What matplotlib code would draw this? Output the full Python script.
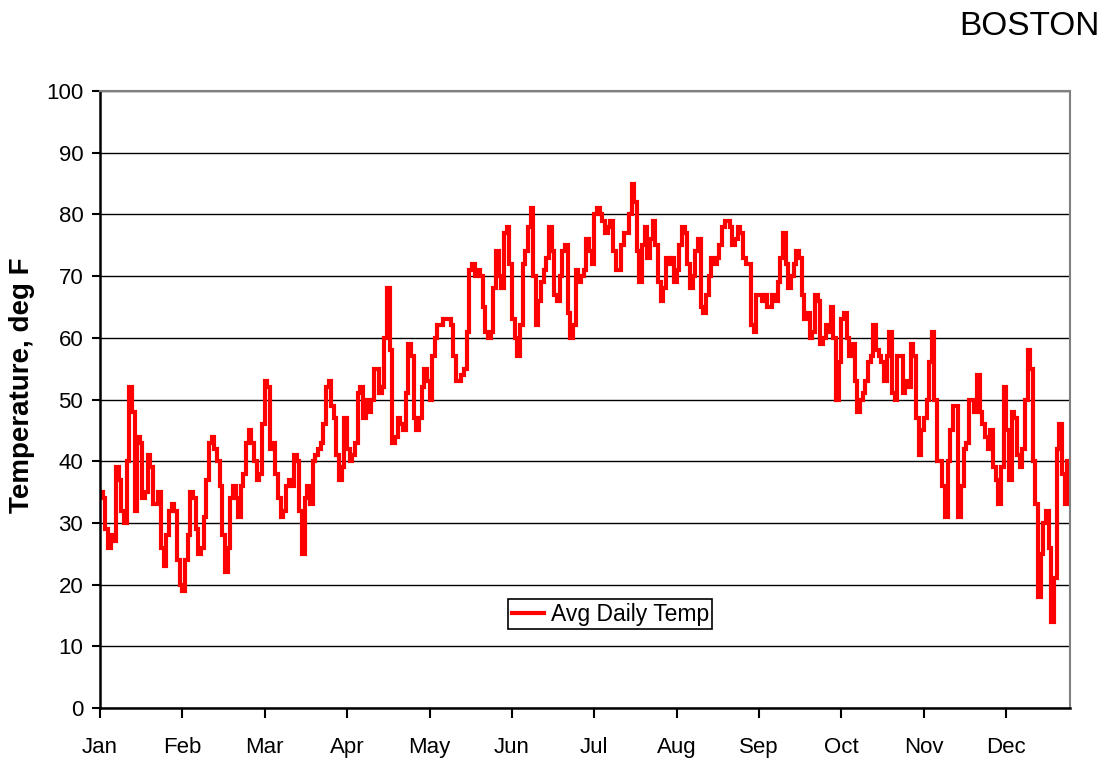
import numpy as np
import matplotlib
matplotlib.use('Agg')
import matplotlib.pyplot as plt

plt.rcParams['font.family'] = ['Liberation Sans', 'DejaVu Sans']

# daily average temperatures (deg F), Jan 1 .. Dec 31
temps = [
    35, 34, 29, 26, 28, 27, 39, 37, 32, 30,
    40, 52, 48, 32, 44, 43, 34, 35, 41, 39,
    33, 33, 35, 26, 23, 28, 32, 33, 32, 24,
    20, 19, 24, 28, 35, 34, 29, 25, 26, 31,
    37, 43, 44, 42, 40, 36, 28, 22, 26, 34,
    36, 34, 31, 36, 38, 43, 45, 43, 40, 37,
    38, 46, 53, 52, 42, 43, 38, 34, 31, 32,
    36, 37, 36, 41, 40, 32, 25, 34, 36, 33,
    40, 41, 42, 43, 46, 52, 53, 49, 47, 41,
    37, 39, 47, 42, 40, 41, 43, 51, 52, 47,
    50, 48, 50, 55, 55, 51, 52, 60, 68, 58,
    43, 44, 47, 46, 45, 51, 59, 57, 47, 45,
    47, 52, 55, 53, 50, 57, 60, 62, 62, 63,
    63, 63, 62, 57, 53, 53, 54, 55, 61, 71,
    72, 70, 71, 70, 65, 61, 60, 61, 68, 74,
    70, 68, 77, 78, 72, 63, 60, 57, 62, 72,
    74, 78, 81, 70, 62, 66, 69, 71, 73, 78,
    74, 67, 66, 70, 74, 75, 64, 60, 62, 71,
    69, 70, 71, 76, 74, 72, 80, 81, 80, 79,
    77, 78, 79, 74, 71, 71, 75, 77, 77, 80,
    85, 82, 74, 69, 75, 78, 73, 76, 79, 75,
    69, 66, 68, 73, 72, 73, 69, 71, 75, 78,
    77, 72, 68, 70, 74, 76, 65, 64, 67, 70,
    73, 72, 73, 75, 78, 79, 79, 78, 75, 76,
    78, 77, 73, 72, 72, 62, 61, 67, 67, 66,
    67, 65, 65, 67, 66, 69, 73, 77, 72, 68,
    70, 72, 74, 73, 67, 63, 64, 60, 61, 67,
    66, 59, 60, 62, 61, 65, 60, 50, 56, 63,
    64, 60, 57, 59, 53, 48, 50, 51, 53, 56,
    57, 62, 58, 57, 56, 53, 57, 61, 51, 50,
    57, 57, 51, 53, 52, 59, 57, 47, 41, 45,
    47, 50, 56, 61, 50, 40, 40, 36, 31, 40,
    45, 49, 49, 31, 36, 42, 43, 50, 50, 48,
    54, 48, 46, 44, 42, 45, 39, 37, 33, 39,
    52, 45, 37, 48, 47, 41, 39, 42, 50, 58,
    55, 40, 33, 18, 25, 30, 32, 26, 14, 21,
    42, 46, 38, 33, 40,
]
month_labels = ['Jan', 'Feb', 'Mar', 'Apr', 'May', 'Jun',
                'Jul', 'Aug', 'Sep', 'Oct', 'Nov', 'Dec']
month_ticks = [31 * i for i in range(12)]   # axis ticks every 744 h
y_ticks = list(range(0, 101, 10))

days = np.arange(len(temps) + 1)
vals = np.append(temps, temps[-1])

fig = plt.figure(figsize=(11.07, 7.63), dpi=100)
ax = fig.add_axes([0.0903, 0.0721, 0.8763, 0.8086])

ax.plot(days, vals, color='#ff0000', linewidth=3.0, drawstyle='steps-post',
        label='Avg Daily Temp', solid_joinstyle='miter')

ax.set_xlim(0, 365)
ax.set_ylim(0, 100)
ax.set_xticks(month_ticks)
ax.set_xticklabels(month_labels)
ax.set_yticks(y_ticks)
ax.yaxis.grid(True, color='black', linewidth=1.0)
ax.set_axisbelow(True)

ax.tick_params(axis='both', labelsize=16, direction='out', width=1.5, color='black')
ax.tick_params(axis='x', length=7, pad=14)
ax.tick_params(axis='y', length=6, pad=6)

for side in ['left', 'bottom']:
    ax.spines[side].set_color('black')
    ax.spines[side].set_linewidth(1.8)
for side in ['top', 'right']:
    ax.spines[side].set_color('#808080')
    ax.spines[side].set_linewidth(1.5)

fig.text(22 / 1107, 1 - 385 / 763, 'Temperature, deg F', rotation=90,
         ha='center', va='center', fontsize=20, fontweight='bold')

leg = ax.legend(loc='center', bbox_to_anchor=(0.526, 0.152), fontsize=16.5,
                frameon=True, fancybox=False, handlelength=1.4, handletextpad=0.3,
                borderpad=0.15, borderaxespad=0)
leg.get_frame().set_edgecolor('black')
leg.get_frame().set_linewidth(1.2)
leg.get_frame().set_alpha(1)

fig.text(0.9937, 0.954, 'BOSTON', ha='right', va='baseline', fontsize=24)

fig.savefig('out.png', dpi=100)
plt.close(fig)
